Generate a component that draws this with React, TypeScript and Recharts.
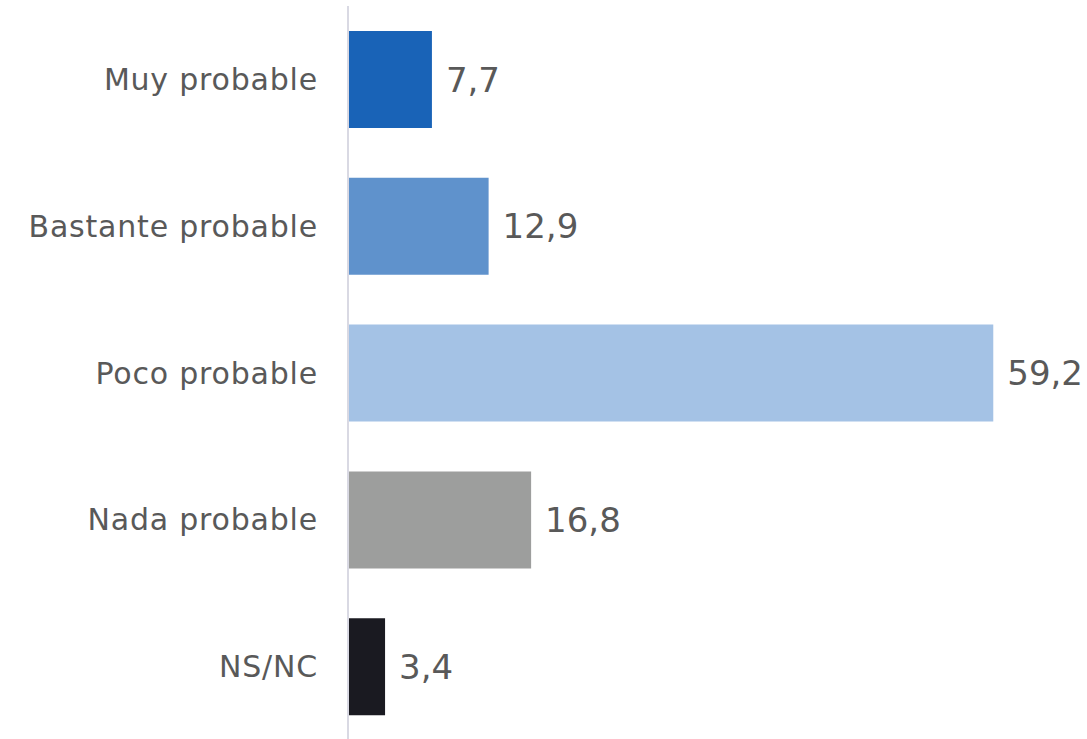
import { BarChart, Bar, XAxis, YAxis, Cell, LabelList } from "recharts";

const categories = ["Muy probable", "Bastante probable", "Poco probable", "Nada probable", "NS/NC"];
const values = [7.7, 12.9, 59.2, 16.8, 3.4];
const colors = ["#1963b7", "#5f92cc", "#a4c2e5", "#9d9e9d", "#1a1a21"];

const data = categories.map((name, i) => ({ name, value: values[i] }));

const textColor = "#595959";
const fontFamily = "'DejaVu Sans', sans-serif";

const App = () => {
  return (
    <div style={{ position: "absolute", left: 0, top: 0, width: 1087, height: 739, background: "#fff" }}>
      <BarChart
        width={1087}
        height={739}
        data={data}
        layout="vertical"
        margin={{ top: 6, right: 85, bottom: -1, left: 0 }}
        barSize={97}
      >
        <XAxis type="number" domain={[0, 60]} hide />
        <YAxis
          type="category"
          dataKey="name"
          width={348}
          axisLine={{ stroke: "#d9d9e3", strokeWidth: 2 }}
          tickLine={false}
          tickMargin={24}
          tick={{ fontSize: 30, fill: textColor, fontFamily, letterSpacing: 0.8 }}
        />
        <Bar dataKey="value" isAnimationActive={false}>
          {data.map((d, i) => (
            <Cell key={d.name} fill={colors[i]} />
          ))}
          <LabelList
            dataKey="value"
            position="right"
            offset={14}
            formatter={(v: any) => String(v).replace(".", ",")}
            style={{ fontSize: 34, fill: textColor, fontFamily }}
          />
        </Bar>
      </BarChart>
    </div>
  );
};

export default App;
